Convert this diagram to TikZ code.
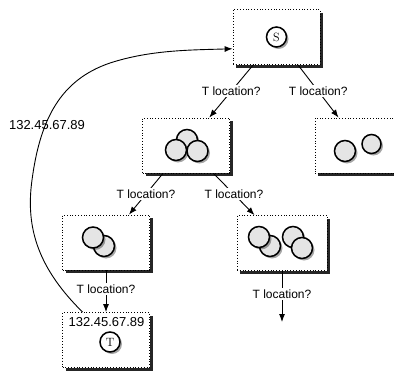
\documentclass[tikz,border=0pt]{standalone}
\usepackage{fontspec}
\newfontfamily\labelfont{Liberation Sans}
\usetikzlibrary{positioning,arrows.meta}

\begin{document}
\begin{tikzpicture}[x=1pt,y=-1pt,
		host/.style={draw,dotted,thick,fill=white,minimum width=87pt,minimum height=55pt,
			preaction={draw=none,fill=black!85,transform canvas={xshift=3pt,yshift=-3pt}}},
		ball/.style={circle,draw,line width=1.5pt,fill=gray!20,minimum size=21pt,inner sep=0pt,
			preaction={draw=none,fill=black,opacity=0.35,transform canvas={xshift=2pt,yshift=-2pt}}},
		sign/.style={circle,draw,line width=1.5pt,fill=white,minimum size=20pt,inner sep=0pt,font=\large,
			preaction={draw=none,fill=black,opacity=0.35,transform canvas={xshift=2pt,yshift=-2pt}}},
		ask/.style={fill=white,inner sep=1.5pt,font=\labelfont\fontsize{12}{14}\selectfont},
		ip/.style={inner sep=0pt,font=\labelfont\fontsize{13}{15}\selectfont},
		link/.style={line width=0.9pt,-{Latex[length=8pt,width=6pt]}}]
	\useasboundingbox (0,0) rectangle (394,372);
	% hosts
	\node[host] (sbox) at (276.5,37) {};
	\node[host] (mid) at (186,145.5) {};
	\node[host,minimum width=90pt] (rbox) at (360,145.5) {};
	\node[host] (lbot) at (106,242.5) {};
	\node[host,minimum width=90pt] (rbot) at (282,243) {};
	\node[host] (tbox) at (106,340) {};
	% peers
	\node[sign] (s) at (276.5,37) {S};
	\node[ball] (m1) at (187,140) {};
	\node[ball] (m2) at (176,150) {};
	\node[ball] (m3) at (197.5,151) {};
	\node[ball] (r1) at (345,151) {};
	\node[ball,minimum size=19pt] (r2) at (371.5,144) {};
	\node[ball] (l2) at (104,246) {};
	\node[ball] (l1) at (93,237.5) {};
	\node[ball] (b2) at (270,246) {};
	\node[ball] (b1) at (259,237) {};
	\node[ball] (b3) at (293,237) {};
	\node[ball] (b4) at (302,248) {};
	\node[ip] (taddr) at (106.5,322) {132.45.67.89};
	\node[sign] (t) at (110,342) {T};
	% queries
	\coordinate (end) at (282,322);
	\draw[link] (sbox) -- node[ask] (q1) {T location?} (mid);
	\draw[link] (sbox) -- node[ask] (q2) {T location?} (rbox);
	\draw[link] (mid) -- node[ask] (q3) {T location?} (lbot);
	\draw[link] (mid) -- node[ask] (q4) {T location?} (rbot);
	\draw[link] (lbot) -- node[ask,pos=0.45] (q5) {T location?} (tbox);
	\draw[link] (rbot) -- node[ask,pos=0.45] (q6) {T location?} (end);
	% answer
	\draw[link] (tbox.130) .. controls (40,270) and (25,230) .. (32,180)
		.. controls (40,120) and (60,80) .. (110,63)
		.. controls (150,50) and (190,50) .. (sbox.195);
	\node[ip] (answer) at (47,125) {132.45.67.89};
\end{tikzpicture}
\end{document}
